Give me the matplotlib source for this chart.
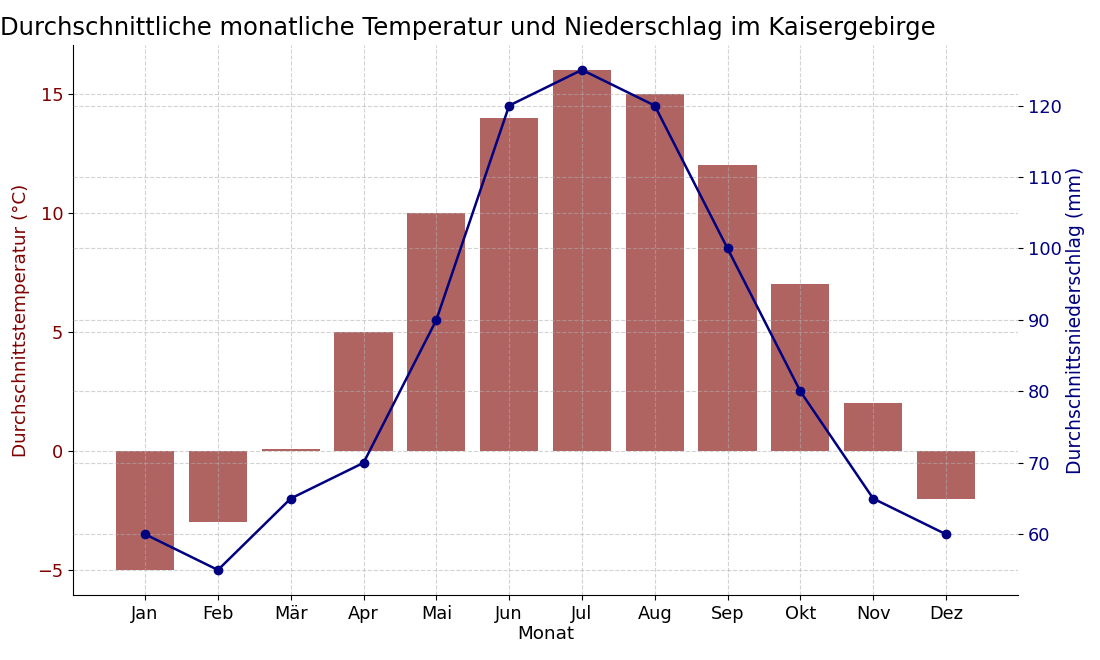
import matplotlib
matplotlib.use("Agg")
import matplotlib.pyplot as plt

months = ["Jan", "Feb", "Mär", "Apr", "Mai", "Jun", "Jul", "Aug", "Sep", "Okt", "Nov", "Dez"]
temperature = [-5, -3, 0.1, 5, 10, 14, 16, 15, 12, 7, 2, -2]
precipitation = [60, 55, 65, 70, 90, 120, 125, 120, 100, 80, 65, 60]

fig = plt.figure(figsize=(11, 6.6), dpi=100)
ax1 = fig.add_axes([0.0664, 0.0985, 0.8591, 0.8335])
x = list(range(len(months)))
ax1.bar(x, temperature, width=0.8, color="#b06462")
ax1.set_xticks(x)
ax1.set_xticklabels(months, fontsize=12.8)
ax1.set_xlabel("Monat", fontsize=13.2, labelpad=2)
ax1.set_ylabel("Durchschnittstemperatur (°C)", color="#800000", fontsize=13.2, labelpad=5)
ax1.tick_params(axis="y", labelcolor="#800000", labelsize=12.8)
ax1.set_yticks([-5, 0, 5, 10, 15])
ax1.grid(True, linestyle="--", color="#b0b0b0", alpha=0.55)
ax1.spines["top"].set_visible(False)
ax1.spines["right"].set_visible(False)

ax2 = ax1.twinx()
ax2.plot(x, precipitation, color="navy", marker="o", linewidth=1.8, markersize=6)
ax2.set_ylabel("Durchschnittsniederschlag (mm)", color="navy", fontsize=13.5, labelpad=3)
ax2.tick_params(axis="y", labelcolor="navy", labelsize=12.8)
ax2.set_yticks([60, 70, 80, 90, 100, 110, 120])
ax2.grid(True, linestyle="--", color="#b0b0b0", alpha=0.55)
for s in ["top", "right", "left", "bottom"]:
    ax2.spines[s].set_visible(False)

fig.text(0.0, 0.958, "Durchschnittliche monatliche Temperatur und Niederschlag im Kaisergebirge",
         fontsize=17.5, ha="left", va="center")

fig.savefig("out.png", dpi=100)
